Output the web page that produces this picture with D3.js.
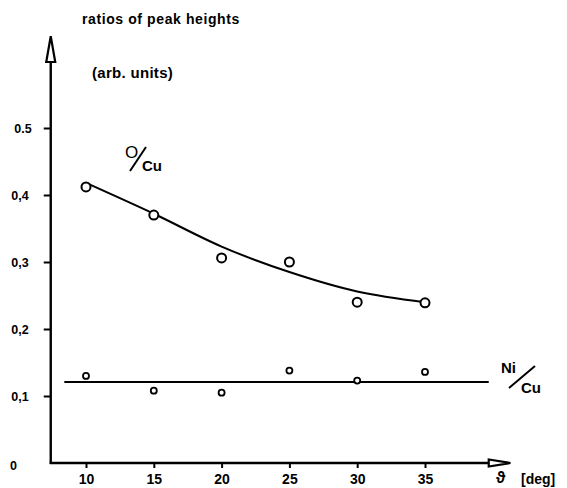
<!DOCTYPE html>
<html>
<head>
  <meta charset="utf-8">
  <title>ratios of peak heights</title>
  <style>
    body {
      margin: 0;
      background-color: white;
    }
    svg text {
      font-family: "Liberation Sans", Arial, sans-serif;
      font-weight: bold;
      fill: black;
    }
  </style>
  <script src="https://d3js.org/d3.v7.min.js"></script>
</head>
<body>
  <div id="chart"></div>
  <script>
    // Angles (deg) where both ratios were measured
    const angles = [10, 15, 20, 25, 30, 35];
    // O/Cu measured points and the hand-drawn fit through them
    const oCuPoints = [0.412, 0.370, 0.306, 0.300, 0.240, 0.239];
    const oCuFit = [0.418, 0.372, 0.323, 0.285, 0.256, 0.240];
    // Ni/Cu measured points and the flat fit line
    const niCuPoints = [0.130, 0.108, 0.105, 0.138, 0.123, 0.136];
    const niCuLevel = 0.121;
    const niCuSpan = [8.4, 39.7];

    // Tick labels as printed on the figure
    const yTicks = [0, 0.1, 0.2, 0.3, 0.4, 0.5];
    const yTickLabels = ["0", "0,1", "0,2", "0,3", "0,4", "0.5"];
    const xTicks = [10, 15, 20, 25, 30, 35];

    // Axis extents in data units (the arrows run a bit past the data)
    const xAxisSpan = [7.4, 39.7];
    const xArrowTip = 41.3;
    const yAxisTop = 0.6;
    const yArrowTip = 0.637;

    const width = 567, height = 488;

    const svg = d3.select("#chart")
      .append("svg")
        .attr("width", width)
        .attr("height", height);

    const x = d3.scaleLinear().domain([10, 35]).range([86, 425]);
    const y = d3.scaleLinear().domain([0, 0.5]).range([463, 128]);

    // y ticks + labels
    const yAxis = svg.append("g")
      .attr("transform", `translate(${x(xAxisSpan[0])},0)`)
      .call(d3.axisLeft(y)
        .tickValues(yTicks.filter(d => d > 0))
        .tickSize(7)
        .tickPadding(15)
        .tickFormat(d => yTickLabels[yTicks.indexOf(d)]));
    yAxis.select(".domain").remove();
    yAxis.selectAll("line").attr("stroke", "black").attr("stroke-width", 2);
    yAxis.selectAll("text").style("font-size", "12.5px").attr("dy", "0.35em");
    yAxis.selectAll("text").filter(d => d === 0.5).attr("x", -19);

    // "0" label sits by itself below the axis corner
    svg.append("text")
      .attr("x", 10)
      .attr("y", y(0) + 7)
      .style("font-size", "12.5px")
      .text(yTickLabels[0]);

    // x ticks + labels
    const xAxis = svg.append("g")
      .attr("transform", `translate(0,${y(0)})`)
      .call(d3.axisBottom(x)
        .tickValues(xTicks)
        .tickSize(5)
        .tickPadding(6)
        .tickFormat(d3.format("d")));
    xAxis.select(".domain").remove();
    xAxis.selectAll("line").attr("stroke", "black").attr("stroke-width", 2);
    xAxis.selectAll("text").style("font-size", "14px");

    // axis lines
    svg.append("line")
      .attr("x1", x(xAxisSpan[0])).attr("x2", x(xAxisSpan[0]))
      .attr("y1", y(0) + 1).attr("y2", y(yAxisTop))
      .attr("stroke", "black").attr("stroke-width", 2.4);
    svg.append("line")
      .attr("x1", x(xAxisSpan[0]) - 1).attr("x2", x(xAxisSpan[1]))
      .attr("y1", y(0)).attr("y2", y(0))
      .attr("stroke", "black").attr("stroke-width", 2.4);

    // open arrow heads
    const ax = x(xAxisSpan[0]);
    svg.append("path")
      .attr("d", `M${ax},${y(yArrowTip)} L${ax - 4.5},${y(yAxisTop) + 1} L${ax + 4.5},${y(yAxisTop) + 1} Z`)
      .attr("fill", "white").attr("stroke", "black").attr("stroke-width", 2.2);
    svg.append("path")
      .attr("d", `M${x(xArrowTip)},${y(0)} L${x(xAxisSpan[1])},${y(0) - 3.5} L${x(xAxisSpan[1])},${y(0) + 3.5} Z`)
      .attr("fill", "white").attr("stroke", "black").attr("stroke-width", 2.2);

    // axis titles
    svg.append("text")
      .attr("x", 82).attr("y", 24)
      .style("font-size", "14px")
      .style("letter-spacing", "0.6px")
      .text("ratios of peak heights");
    svg.append("text")
      .attr("x", 92).attr("y", 78)
      .style("font-size", "15px")
      .style("letter-spacing", "0.3px")
      .text("(arb. units)");
    svg.append("text")
      .attr("x", 496).attr("y", 483)
      .style("font-size", "16px")
      .text("ϑ");
    svg.append("text")
      .attr("x", 521).attr("y", 484)
      .style("font-size", "14px")
      .text("[deg]");

    // O/Cu fit curve
    const fitLine = d3.line()
      .x((d, i) => x(angles[i]))
      .y(d => y(d))
      .curve(d3.curveMonotoneX);
    svg.append("path")
      .datum(oCuFit)
      .attr("fill", "none")
      .attr("stroke", "black")
      .attr("stroke-width", 2)
      .attr("d", fitLine);

    // Ni/Cu flat line
    svg.append("line")
      .attr("x1", x(niCuSpan[0])).attr("x2", x(niCuSpan[1]))
      .attr("y1", y(niCuLevel)).attr("y2", y(niCuLevel))
      .attr("stroke", "black").attr("stroke-width", 2);

    // points
    svg.selectAll(".o-cu")
      .data(oCuPoints)
      .enter().append("circle")
        .attr("class", "o-cu")
        .attr("cx", (d, i) => x(angles[i]))
        .attr("cy", d => y(d))
        .attr("r", 4.5)
        .attr("fill", "white")
        .attr("stroke", "black")
        .attr("stroke-width", 2);

    svg.selectAll(".ni-cu")
      .data(niCuPoints)
      .enter().append("circle")
        .attr("class", "ni-cu")
        .attr("cx", (d, i) => x(angles[i]))
        .attr("cy", d => y(d))
        .attr("r", 3)
        .attr("fill", "white")
        .attr("stroke", "black")
        .attr("stroke-width", 1.8);

    // series labels written as fractions with a slash
    svg.append("text")
      .attr("x", 125).attr("y", 158)
      .style("font-size", "17px")
      .style("font-weight", "normal")
      .text("O");
    svg.append("line")
      .attr("x1", 130).attr("y1", 171).attr("x2", 146).attr("y2", 147)
      .attr("stroke", "black").attr("stroke-width", 2);
    svg.append("text")
      .attr("x", 142).attr("y", 171)
      .style("font-size", "15px")
      .text("Cu");

    svg.append("text")
      .attr("x", 501).attr("y", 373)
      .style("font-size", "15px")
      .text("Ni");
    svg.append("line")
      .attr("x1", 509).attr("y1", 388).attr("x2", 535).attr("y2", 366)
      .attr("stroke", "black").attr("stroke-width", 2);
    svg.append("text")
      .attr("x", 521).attr("y", 393)
      .style("font-size", "15px")
      .text("Cu");
  </script>
</body>
</html>
